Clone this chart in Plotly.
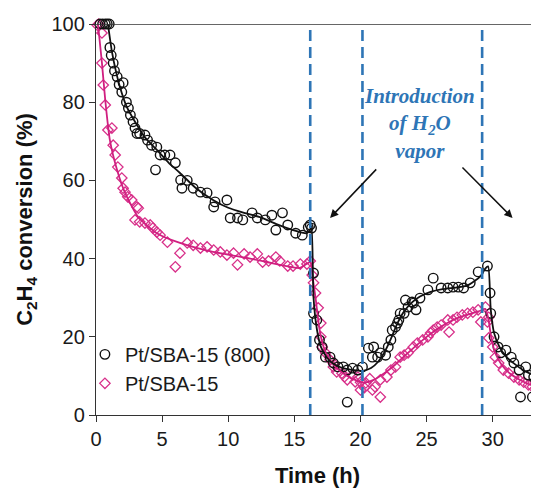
import plotly.graph_objects as go

# Pt/SBA-15 (800) - open circles
t_800 = [0.3, 0.5, 0.7, 0.85, 1.0, 1.05, 1.15, 1.3, 1.4, 1.6, 1.75, 2.05, 1.95, 2.3, 2.45,
         2.6, 2.8, 2.95, 3.1, 3.3, 3.7, 3.9, 4.2, 4.6, 4.85, 5.2, 5.6, 6.0, 4.5, 6.4,
         6.9, 6.5, 7.35, 7.9, 8.4, 9.0, 9.9, 8.9, 10.15, 10.7, 11.1, 11.8, 12.2, 12.8, 13.3,
         14.1, 13.6, 14.5, 15.1, 15.6, 16.05, 16.3,
         16.2, 16.45, 16.45, 16.7, 16.9, 17.1, 17.35, 17.7, 17.95, 18.3, 18.7, 19.0, 19.4, 19.8,
         19.0, 20.15, 20.6, 21.0, 20.9, 21.3, 21.5, 21.9, 22.1, 22.3, 22.4, 22.65, 22.8, 22.9,
         23.0, 23.3, 23.4, 23.6, 23.9, 24.0, 24.2, 24.5, 25.1, 25.5, 26.1, 26.6, 27.0, 27.4,
         27.8, 28.3, 28.9, 29.6, 29.8, 29.85, 30.1, 30.4, 30.6, 31.0, 31.4, 31.6, 32.0, 32.5,
         32.7, 33.1, 32.1, 33.0]
c_800 = [100, 100, 100, 100, 100, 94, 92, 90, 88, 86.5, 84.5, 85, 82.6, 80, 78.5,
         76.7, 75, 73.4, 72, 72, 71.6, 70.3, 69, 68.5, 66.5, 66.5, 66.5, 64.5, 62.7, 60.1,
         60, 58, 58, 57, 56.8, 54.5, 55, 53.2, 50.4, 50.4, 49.9, 51.7, 50.4, 49.9, 51.1,
         51.7, 47.3, 48.6, 46.5, 46, 48, 47.8,
         48.6, 36.3, 26, 24.3, 19.2, 17.4, 14.8, 14.8, 13.3, 12.3, 12.3, 11.5, 12, 11.5,
         3.3, 12.3, 17.1, 17.4, 14.8, 14.8, 15.9, 15.3, 17.4, 19.2, 21.7, 22.5, 23.5, 24.3,
         26, 26, 29.4, 27.6, 28.9, 28.6, 26.9, 29.9, 32, 35, 32.5, 32.5, 32.7, 32.7,
         32.5, 33.8, 36.6, 38.1, 31.2, 26, 20, 17.4, 15.9, 16.6, 14.8, 13.3, 11.5, 12.3,
         10.2, 9.7, 4.6, 4.6]

# Pt/SBA-15 - open diamonds
t_sba = [0.1, 0.2, 0.45, 0.45, 0.55, 0.7, 0.9, 1.2, 1.3, 1.45, 1.65, 1.95, 2.05, 2.2, 2.4,
         2.7, 3.1, 3.2, 2.95, 3.3, 3.7, 4.1, 4.3, 4.6, 4.85, 5.4, 6.35, 6.0, 6.9, 7.35,
         7.9, 8.4, 8.9, 9.4, 9.9, 10.4, 10.7, 11.2, 11.65, 12.2, 12.6, 13.05, 13.6, 13.9, 14.5,
         14.9, 15.45, 15.95, 16.2,
         16.35, 16.45, 16.6, 16.8, 17.0, 17.0, 17.1, 17.35, 17.7, 17.95, 18.0, 18.2, 18.6, 18.8,
         19.0, 19.4, 19.6, 19.8, 20.0, 20.3, 20.4, 20.0, 20.7, 20.9, 21.1, 21.5, 21.5, 22.0,
         22.3, 22.65, 23.0, 23.3, 23.6, 24.0, 24.3, 24.7, 25.1, 25.3, 25.5, 25.8, 26.1, 26.7,
         26.6, 27.0, 27.3, 27.7, 28.1, 28.5, 28.9, 29.1, 29.45, 29.7, 29.6, 29.7, 30.0, 30.2,
         30.45, 30.8, 31.2, 31.6, 32.0, 32.35, 32.7, 33.0]
c_sba = [99.7, 100, 97.7, 90, 84.4, 79.3, 72.9, 73.4, 69, 66.5, 63.4, 60.6, 58, 57, 55.8,
         55, 53.2, 52.9, 49.9, 49.4, 49.1, 48.6, 47.8, 46.8, 46, 44.2, 41.4, 37.9, 44.0, 43.4,
         42.7, 43, 42.2, 41.7, 40.9, 41.4, 38.4, 41.2, 40.4, 41.2, 39.1, 39.4, 40.4, 39.4, 38.1,
         38.1, 38.6, 38.6, 39.4,
         35.8, 33.8, 31.2, 27.4, 23.5, 20, 17.4, 15.9, 14.1, 12.3, 13, 11, 10.7, 9.8,
         9, 10.2, 8.5, 9.7, 8.4, 7, 8.2, 6.4, 9.3, 6.4, 7.2, 4.6, 9, 9.7,
         11.5, 12.3, 14.8, 15.3, 15.9, 17.4, 18.4, 19.2, 20, 21, 21.7, 22.5, 23, 21.2,
         24.3, 24.3, 25, 25.6, 26, 26.3, 26.9, 23.8, 27.6, 25, 23.8, 19.7, 17.4, 14.8,
         13.3, 11.5, 10.7, 9.7, 9, 8.4, 7.7, 7.2]

# fitted trend curves
fit_t_800 = [0.9, 1.2, 1.5, 1.8, 2.3, 2.95, 3.7, 4.6, 5.5, 6.35, 7.5, 8.85, 10, 11.2, 12.4,
             13.6, 14.9, 15.95, 16.2, 16.3, 16.45, 16.7, 17.0, 17.5, 18, 18.7, 19.5, 20.2,
             20.8, 21.3, 21.8, 22.3, 22.8, 23.3, 23.9, 24.5, 25.3, 26.2, 27.2, 28.0, 28.6,
             29.1, 29.45, 29.65, 29.85, 30.1, 30.5, 31, 31.6, 32.3, 33.0, 33.5]
fit_c_800 = [100, 93, 88, 84, 79, 75, 71, 67.8, 64.5, 61.9, 58.2, 55, 53, 51.7, 50.6,
             48.9, 47.3, 46.5, 47.5, 48.3, 30, 22, 17.5, 14.5, 13, 12, 11.5, 11.3,
             12, 13.5, 16, 19.5, 23.5, 26.5, 28.8, 30.3, 31.5, 32.2, 32.6, 33, 34.2,
             35.6, 37.5, 38, 27, 21, 17.5, 15, 13.2, 11.5, 10.3, 9.6]
fit_t_sba = [0.15, 0.45, 0.7, 1.05, 1.6, 2.2, 3.2, 4.6, 6.35, 8.85, 11.4, 13.9, 15.4, 16.2,
             16.35, 16.6, 16.9, 17.2, 17.6, 18.2, 19, 19.8, 20.3, 21, 21.8, 22.6, 23.4,
             24.3, 25.2, 26.1, 27, 28, 29, 29.45, 29.7, 29.9, 30.2, 30.7, 31.3, 32, 32.8, 33.5]
fit_c_sba = [100, 90, 80.5, 70.3, 62.6, 56.8, 50.6, 46.5, 44, 41.7, 40.2, 38.4, 37.6, 39.1,
             36, 30, 22, 17.5, 14.5, 12, 10, 8.7, 8.3, 9, 10.7, 12.8, 15.3,
             18, 20.5, 22.6, 24.3, 25.6, 26.6, 27.1, 24, 19.5, 15.8, 12.7, 10.6, 9.1, 7.8, 6.9]

# times where H2O vapor was switched
switch_t = [16.2, 20.15, 29.2]

PINK = '#D8308A'
BLUE = '#2E75B6'

fig = go.Figure()

fig.add_trace(go.Scatter(x=t_sba, y=c_sba, mode='markers', name='Pt/SBA-15', legendrank=2,
                         marker=dict(symbol='diamond-open', size=8, color=PINK, line=dict(width=1.3)),
                         cliponaxis=False))
fig.add_trace(go.Scatter(x=t_800, y=c_800, mode='markers', name='Pt/SBA-15 (800)', legendrank=1,
                         marker=dict(symbol='circle-open', size=9.5, color='#111111', line=dict(width=1.4)),
                         cliponaxis=False))
fig.add_trace(go.Scatter(x=fit_t_sba, y=fit_c_sba, mode='lines', showlegend=False,
                         line=dict(color='#D01F80', width=1.8, shape='spline', smoothing=0.6)))
fig.add_trace(go.Scatter(x=fit_t_800, y=fit_c_800, mode='lines', showlegend=False,
                         line=dict(color='#111111', width=1.8, shape='spline', smoothing=0.6)))

for t in switch_t:
    fig.add_shape(type='line', x0=t, x1=t, y0=0, y1=100, xref='x', yref='y',
                  line=dict(color=BLUE, width=2.6, dash='11px,6px'))

# top border at 100 %
fig.add_shape(type='line', x0=0, x1=1, y0=100, y1=100, xref='paper', yref='y',
              line=dict(color='#333333', width=1.3))

fig.add_annotation(x=24.5, y=74.5, xref='x', yref='y', showarrow=False,
                   text='<b><i>Introduction<br>of H<sub>2</sub>O<br>vapor</i></b>',
                   font=dict(family='Liberation Serif', size=21, color=BLUE), align='center')

# arrows
fig.add_annotation(x=17.7, y=50.4, ax=21.3, ay=63.2, xref='x', yref='y', axref='x', ayref='y',
                   text='', showarrow=True, arrowhead=2, arrowsize=1.1, arrowwidth=1.5, arrowcolor='#111111')
fig.add_annotation(x=31.5, y=50.4, ax=27.6, ay=63.7, xref='x', yref='y', axref='x', ayref='y',
                   text='', showarrow=True, arrowhead=2, arrowsize=1.1, arrowwidth=1.5, arrowcolor='#111111')

fig.update_xaxes(range=[0, 33.5], tickvals=[0, 5, 10, 15, 20, 25, 30], showgrid=False, zeroline=False,
                 showline=True, linecolor='#333333', linewidth=1.3, ticks='outside', ticklen=6,
                 tickcolor='#333333', tickfont=dict(family='Liberation Sans', size=20, color='#1a1a1a'),
                 title=dict(text='<b>Time (h)</b>', standoff=18,
                            font=dict(family='Liberation Sans', size=22, color='#111111')))
fig.update_yaxes(range=[0, 100], tickvals=[0, 20, 40, 60, 80, 100], showgrid=False, zeroline=False,
                 showline=True, linecolor='#333333', linewidth=1.3, ticks='outside', ticklen=6,
                 tickcolor='#333333', tickfont=dict(family='Liberation Sans', size=20, color='#1a1a1a'),
                 title=dict(text='<b>C<sub>2</sub>H<sub>4</sub> conversion (%)</b>', standoff=12,
                            font=dict(family='Liberation Sans', size=22, color='#111111')))

# page body has an 8px margin, so the figure is a bit smaller than the window
fig.update_layout(width=531, height=484, margin=dict(l=88, r=0, t=16, b=77),
                  plot_bgcolor='white', paper_bgcolor='white',
                  legend=dict(x=-0.025, y=0.205, xanchor='left', yanchor='top', bgcolor='rgba(0,0,0,0)',
                              font=dict(family='Liberation Sans', size=20, color='#1a1a1a'),
                              itemwidth=30, tracegroupgap=0))

fig.write_html("out.html")
